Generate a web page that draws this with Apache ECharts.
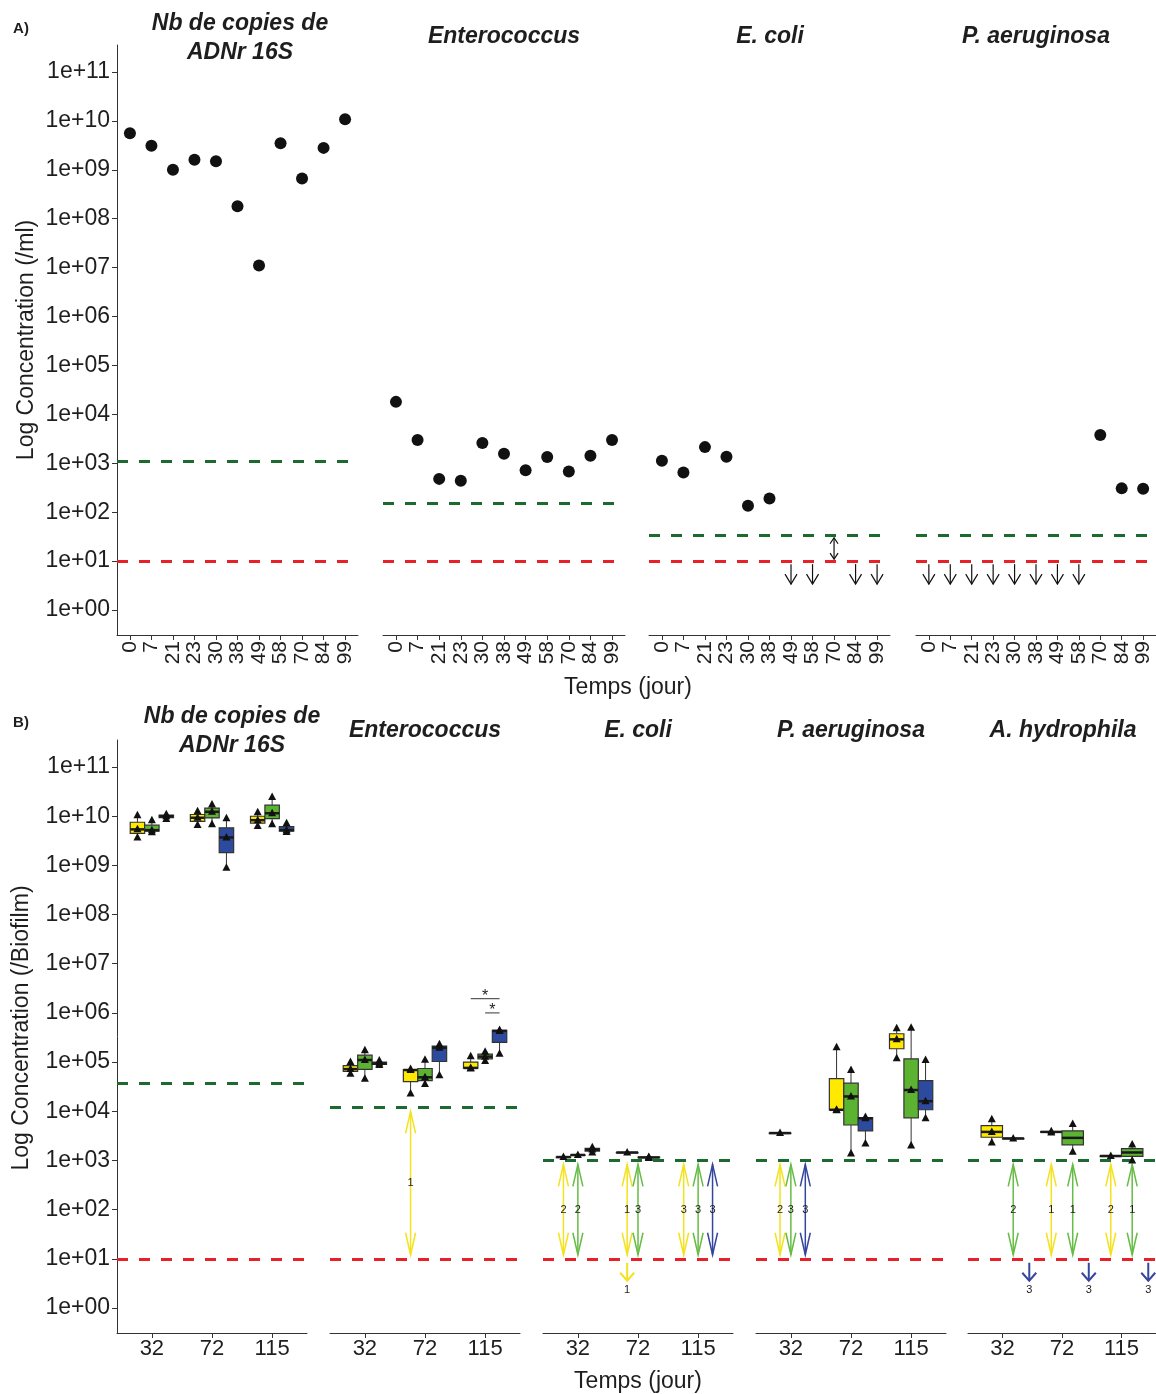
<!DOCTYPE html>
<html><head><meta charset="utf-8">
<script src="https://cdn.jsdelivr.net/npm/echarts@6/dist/echarts.min.js"></script>
<style>html,body{margin:0;padding:0;background:#fff}#c{width:1156px;height:1394px}</style>
</head><body><div id="c"></div>
<script>
// ================= DATA =================
// Panel A
const daysA = ['0','7','21','23','30','38','49','58','70','84','99'];
const facetTitlesA = ['Nb de copies de\nADNr 16S','Enterococcus','E. coli','P. aeruginosa'];
const a16S   = [5.6e9,3.1e9,1.0e9,1.6e9,1.5e9,1.8e8,1.1e7,3.5e9,6.6e8,2.8e9,1.08e10];
const aEntero= [1.8e4,3.0e3,4.8e2,4.4e2,2.6e3,1.57e3,7.2e2,1.34e3,6.8e2,1.43e3,2.98e3];
const aEcoli = [1.13e3,6.5e2,2.14e3,1.36e3,1.35e2,1.9e2,null,null,null,null,null];
const aPaer  = [null,null,null,null,null,null,null,null,3.8e3,3.07e2,3.0e2];
const loqA = [1.1e3,1.56e2,3.3e1,3.3e1];
const lodA = [10,10,10,10];
const aEcoliBelow = ['49','58','84','99'];
const aEcoliBetween = ['70'];
const aPaerBelow = ['0','7','21','23','30','38','49','58'];

// Panel B
const timesB = ['32','72','115'];
const groupsB = ['Groupe 1','Groupe 2','Groupe 3'];
const facetTitlesB = ['Nb de copies de\nADNr 16S','Enterococcus','E. coli','P. aeruginosa','A. hydrophila'];
// replicates [time][group]; null = group absent
const b16S = [
  [[3.7e9,5.4e9,1.05e10],[4.7e9,5.2e9,8.3e9],[8.8e9,1.0e10,1.1e10]],
  [[6.6e9,9.3e9,1.26e10],[6.9e9,1.23e10,1.74e10],[8.9e8,3.7e9,9.1e9]],
  [[6.3e9,8.3e9,1.2e10],[6.9e9,1.15e10,2.45e10],[4.8e9,5.2e9,7.2e9]]
];
const bEntero = [
  [[5.8e4,7.2e4,1.0e5],[4.6e4,1.1e5,1.74e5],[8.7e4,9.3e4,1.07e5]],
  [[2.3e4,6.9e4,7.2e4],[3.6e4,4.9e4,1.12e5],[5.4e4,1.95e5,2.3e5]],
  [[7.4e4,7.6e4,1.32e5],[1.05e5,1.29e5,1.62e5],[1.48e5,4.3e5,4.5e5]]
];
const bEcoli = [
  [[1.17e3],[1.29e3],[1.45e3,1.66e3,1.86e3]],
  [[1.45e3],null,[1.12e3,1.15e3,1.18e3]],
  [null,null,null]
];
const bPaer = [
  [[3.6e3],[],null],
  [[1.05e4,1.07e4,2.0e5],[1.38e3,2.0e4,6.9e4],[2.2e3,7.2e3,7.6e3]],
  [[1.2e5,2.9e5,4.9e5],[2.0e3,2.7e4,5.0e5],[7.2e3,1.6e4,1.1e5]]
];
const bAhyd = [
  [[2.3e3,3.8e3,6.9e3],[2.8e3],null],
  [[3.7e3,3.9e3],[1.5e3,5.5e3],null],
  [[1.23e3],[1.0e3,2.1e3],null]
];
const loqB = [3.7e4,1.2e4,1e3,1e3,1e3];
const lodB = [10,10,10,10,10];
// arrows [time, group, count]
const bEnteroBetween = [['72',0,1]];
const bEcoliBetween = [['32',0,2],['32',1,2],['72',0,1],['72',1,3],['115',0,3],['115',1,3],['115',2,3]];
const bEcoliBelow = [['72',0,1]];
const bPaerBetween = [['32',0,2],['32',1,3],['32',2,3]];
const bAhydBetween = [['32',1,2],['72',0,1],['72',1,1],['115',0,2],['115',1,1]];
const bAhydBelow = [['32',2,3],['72',2,3],['115',2,3]];
// significance [time, groupFrom, groupTo, level, label]
const bEnteroSig = [['115',0,2,1.95e6,'*'],['115',1,2,1.0e6,'*']];

const yTickExps = [0,1,2,3,4,5,6,7,8,9,10,11];
const yTickLabels = ['1e+00','1e+01','1e+02','1e+03','1e+04','1e+05','1e+06','1e+07','1e+08','1e+09','1e+10','1e+11'];

// ================= LAYOUT / STYLE =================
const FONT = '"Liberation Sans", Arial, Helvetica, sans-serif';
const TXT = '#1e1e1e', AX = '#333';
const LOQ_COLOR = '#1c6a30', LOD_COLOR = '#e8202a';
const boxColors = ['#FFE900','#5CB332','#2C4B9F'];
const arrowColors = ['#F3E21C','#66BC44','#34469E'];
const Y_MIN = -0.51, Y_MAX = 11.55;
const DODGE = 0.72;
const gridA = [{left:117,width:241},{left:383,width:242},{left:649,width:241},{left:916,width:240}];
const TOP_A = 45, H_A = 590;
const gridB = [{left:117,width:190},{left:330,width:190},{left:543,width:190},{left:756,width:190},{left:968,width:188}];
const TOP_B = 740, H_B = 593;
const titleXA = [240,504,770,1036];
const titleXB = [232,425,638,851,1063];

const L = v => Math.log10(v);
function q7(s,p){const h=(s.length-1)*p,lo=Math.floor(h),hi=Math.ceil(h);return s[lo]+(h-lo)*(s[hi]-s[lo]);}

function yAxisDef(gi, show){
  return {type:'value', gridIndex:gi, min:Y_MIN, max:Y_MAX, show:show,
    axisLine:{show:true,onZero:false,lineStyle:{color:AX,width:1}},
    axisTick:{show:true,length:5,customValues:yTickExps,lineStyle:{color:AX}},
    axisLabel:{customValues:yTickExps, formatter:v=>yTickLabels[yTickExps.indexOf(Math.round(v))],
      fontSize:23,color:TXT,fontFamily:FONT,margin:7},
    splitLine:{show:false}};
}
function refLines(loq, lod){
  return {silent:true, symbol:['none','none'], label:{show:false}, emphasis:{disabled:true}, animation:false,
    data:[
      {yAxis:L(loq), lineStyle:{color:LOQ_COLOR,type:[11,11],width:3}},
      {yAxis:L(lod), lineStyle:{color:LOD_COLOR,type:[11,11],width:3}}
    ]};
}

const option = {animation:false, backgroundColor:'#fff', grid:[], xAxis:[], yAxis:[], series:[], graphic:{elements:[]}};

// ---------- Panel A ----------
const seriesA = [a16S,aEntero,aEcoli,aPaer];
const idxA = daysA.map((d,i)=>i);
gridA.forEach((g,i)=>{
  option.grid.push({left:g.left, top:TOP_A, width:g.width, height:H_A});
  option.xAxis.push({type:'value', gridIndex:i, min:-0.6, max:10.6,
    axisLine:{onZero:false,lineStyle:{color:AX,width:1}},
    axisTick:{customValues:idxA,length:5,lineStyle:{color:AX}},
    axisLabel:{customValues:idxA, formatter:v=>daysA[Math.round(v)], rotate:90, fontSize:21, color:TXT, fontFamily:FONT, margin:6},
    splitLine:{show:false}});
  option.yAxis.push(yAxisDef(i, i===0));
  option.series.push({type:'scatter', xAxisIndex:i, yAxisIndex:i, z:3,
    data: seriesA[i].map((v,k)=> v==null?null:[k, L(v)]).filter(Boolean),
    symbol:'circle', symbolSize:12, itemStyle:{color:'#111',opacity:1},
    markLine: refLines(loqA[i], lodA[i])});
});

function arrowARender(kind){
  return (params, api)=>{
    const p = api.coord([api.value(0), api.value(1)]);
    const x = p[0], yl = p[1];
    const st = {stroke:'#111', lineWidth:1.2, fill:null};
    if(kind==='below'){
      const y0 = yl+3, y1 = yl+23;
      return {type:'group', children:[
        {type:'line', shape:{x1:x,y1:y0,x2:x,y2:y1}, style:st},
        {type:'polyline', shape:{points:[[x-6,y1-10],[x,y1],[x+6,y1-10]]}, style:st}
      ]};
    }
    const yq = api.coord([api.value(0), api.value(2)])[1];
    const y0 = yq+2, y1 = yl-2;
    return {type:'group', children:[
      {type:'line', shape:{x1:x,y1:y0,x2:x,y2:y1}, style:st},
      {type:'polyline', shape:{points:[[x-4,y0+6],[x,y0],[x+4,y0+6]]}, style:st},
      {type:'polyline', shape:{points:[[x-4,y1-6],[x,y1],[x+4,y1-6]]}, style:st}
    ]};
  };
}
option.series.push({type:'custom', xAxisIndex:2, yAxisIndex:2, z:4, clip:false,
  data: aEcoliBelow.map(d=>[daysA.indexOf(d), L(lodA[2])]), renderItem: arrowARender('below')});
option.series.push({type:'custom', xAxisIndex:2, yAxisIndex:2, z:4, clip:false,
  data: aEcoliBetween.map(d=>[daysA.indexOf(d), L(lodA[2]), L(loqA[2])]), renderItem: arrowARender('between')});
option.series.push({type:'custom', xAxisIndex:3, yAxisIndex:3, z:4, clip:false,
  data: aPaerBelow.map(d=>[daysA.indexOf(d), L(lodA[3])]), renderItem: arrowARender('below')});

// ---------- Panel B ----------
const repsB = [b16S,bEntero,bEcoli,bPaer,bAhyd];
const betweenB = [[],bEnteroBetween,bEcoliBetween,bPaerBetween,bAhydBetween];
const belowB = [[],[],bEcoliBelow,[],bAhydBelow];
const sigB = [[],bEnteroSig,[],[],[]];
const idxB = timesB.map((t,i)=>i);

function buildBoxItems(reps){
  const items=[];
  reps.forEach((row,t)=>{
    const present = row.map((r,g)=> r!=null ? g : -1).filter(g=>g>=0);
    row.forEach((r,g)=>{
      if(!r || !r.length) return;
      const lv = r.map(L).sort((a,b)=>a-b);
      items.push({t,g,n:present.length,slot:present.indexOf(g),lv,q1:q7(lv,.25),med:q7(lv,.5),q3:q7(lv,.75)});
    });
  });
  return items;
}
function boxX(api, it){
  const unit = api.size([1,0])[0];
  const total = DODGE*unit, w = total/it.n;
  return {cx: api.coord([it.t,0])[0] - total/2 + w*(it.slot+0.5), w};
}
function groupX(api, items, t, g, belowNoBox){
  const it = items.find(o=>o.t===t && o.g===g);
  if(it) return boxX(api,it).cx;
  const unit = api.size([1,0])[0];
  const off = belowNoBox ? (g-1)*0.45 : (g-1)*DODGE/3;
  return api.coord([t,0])[0] + off*unit;
}

gridB.forEach((g,k)=>{
  const gi = k+4;
  option.grid.push({left:g.left, top:TOP_B, width:g.width, height:H_B});
  option.xAxis.push({type:'value', gridIndex:gi, min:-0.58, max:2.58,
    axisLine:{onZero:false,lineStyle:{color:AX,width:1}},
    axisTick:{customValues:idxB,length:5,lineStyle:{color:AX}},
    axisLabel:{customValues:idxB, formatter:v=>timesB[Math.round(v)], fontSize:22, color:TXT, fontFamily:FONT, margin:5},
    splitLine:{show:false}});
  option.yAxis.push(yAxisDef(gi, k===0));
  option.series.push({type:'scatter', xAxisIndex:gi, yAxisIndex:gi, data:[], z:2, markLine: refLines(loqB[k], lodB[k])});
  const items = buildBoxItems(repsB[k]);
  option.series.push({type:'custom', xAxisIndex:gi, yAxisIndex:gi, z:5, clip:false,
    data: items.map(it=>[it.t, it.med]),
    renderItem:(params, api)=>{
      const it = items[params.dataIndex];
      const {cx,w} = boxX(api,it);
      const Y = v=>api.coord([it.t,v])[1];
      const yLo = Y(it.lv[0]), yHi = Y(it.lv[it.lv.length-1]);
      const y1 = Y(it.q1), y3 = Y(it.q3), ym = Y(it.med);
      const ch = [
        {type:'line', shape:{x1:cx,y1:yHi,x2:cx,y2:y3}, style:{stroke:AX,lineWidth:1}},
        {type:'line', shape:{x1:cx,y1:y1,x2:cx,y2:yLo}, style:{stroke:AX,lineWidth:1}},
        {type:'rect', shape:{x:cx-w/2,y:y3,width:w,height:Math.max(y1-y3,0.5)}, style:{fill:boxColors[it.g],stroke:AX,lineWidth:1.2}},
        {type:'line', shape:{x1:cx-w/2,y1:ym,x2:cx+w/2,y2:ym}, style:{stroke:'#1a1a1a',lineWidth:2.5}}
      ];
      it.lv.forEach(v=>{
        const y = Y(v);
        ch.push({type:'polygon', shape:{points:[[cx,y-4.5],[cx-4,y+3],[cx+4,y+3]]}, style:{fill:'#111'}});
      });
      return {type:'group', children:ch};
    }});
  if(betweenB[k].length){
    option.series.push({type:'custom', xAxisIndex:gi, yAxisIndex:gi, z:4, clip:false,
      data: betweenB[k].map(a=>[timesB.indexOf(a[0]), a[1], a[2]]),
      renderItem:(params, api)=>{
        const t = api.value(0), g = api.value(1), n = api.value(2);
        const x = groupX(api, items, t, g, false);
        const yq = api.coord([t, L(loqB[k])])[1] + 4;
        const yl = api.coord([t, L(lodB[k])])[1] - 4;
        const st = {stroke:arrowColors[g], lineWidth:1.5, fill:null};
        return {type:'group', children:[
          {type:'line', shape:{x1:x,y1:yq,x2:x,y2:yl}, style:st},
          {type:'polyline', shape:{points:[[x-5,yq+22],[x,yq],[x+5,yq+22]]}, style:st},
          {type:'polyline', shape:{points:[[x-5,yl-22],[x,yl],[x+5,yl-22]]}, style:st},
          {type:'text', x:x, y:(yq+yl)/2, style:{text:String(n), fontSize:11, fontFamily:FONT, fill:TXT,
            textAlign:'center', textVerticalAlign:'middle', align:'center', verticalAlign:'middle'}}
        ]};
      }});
  }
  if(belowB[k].length){
    option.series.push({type:'custom', xAxisIndex:gi, yAxisIndex:gi, z:4, clip:false,
      data: belowB[k].map(a=>[timesB.indexOf(a[0]), a[1], a[2]]),
      renderItem:(params, api)=>{
        const t = api.value(0), g = api.value(1), n = api.value(2);
        const x = groupX(api, items, t, g, true);
        const y0 = api.coord([t, L(lodB[k])])[1] + 4, y1 = y0 + 18;
        const st = {stroke:arrowColors[g], lineWidth:2, fill:null};
        return {type:'group', children:[
          {type:'line', shape:{x1:x,y1:y0,x2:x,y2:y1}, style:st},
          {type:'polyline', shape:{points:[[x-7,y1-8],[x,y1],[x+7,y1-8]]}, style:st},
          {type:'text', x:x, y:y1+9, style:{text:String(n), fontSize:11, fontFamily:FONT, fill:TXT,
            textAlign:'center', textVerticalAlign:'middle', align:'center', verticalAlign:'middle'}}
        ]};
      }});
  }
  if(sigB[k].length){
    option.series.push({type:'custom', xAxisIndex:gi, yAxisIndex:gi, z:4, clip:false,
      data: sigB[k].map(s=>[timesB.indexOf(s[0]), L(s[3]), s[1], s[2]]),
      renderItem:(params, api)=>{
        const s = sigB[k][params.dataIndex];
        const t = api.value(0);
        const x1 = groupX(api, items, t, s[1], false), x2 = groupX(api, items, t, s[2], false);
        const y = api.coord([t, api.value(1)])[1];
        return {type:'group', children:[
          {type:'line', shape:{x1:x1,y1:y,x2:x2,y2:y}, style:{stroke:'#555',lineWidth:1.2}},
          {type:'text', x:(x1+x2)/2, y:y-2, style:{text:s[4], fontSize:16, fontFamily:FONT, fill:TXT,
            textAlign:'center', textVerticalAlign:'middle', align:'center', verticalAlign:'middle'}}
        ]};
      }});
  }
});

// ---------- Texts ----------
function txt(text, x, y, opt){
  return {type:'text', x:x, y:y, silent:true, style:Object.assign({text:text, fontFamily:FONT, fill:TXT,
    textAlign:'center', textVerticalAlign:'middle', align:'center', verticalAlign:'middle'}, opt||{})};
}
const ttl = {fontSize:23, fontWeight:'bold', fontStyle:'italic', lineHeight:29};
const G = option.graphic.elements;
G.push(txt('A)', 21, 29, {fontSize:15, fontWeight:'bold'}));
G.push(txt('B)', 21, 723, {fontSize:15, fontWeight:'bold'}));
facetTitlesA.forEach((t,i)=>G.push(txt(t, titleXA[i], i===0?38:37, ttl)));
facetTitlesB.forEach((t,i)=>G.push(txt(t, titleXB[i], 731, ttl)));
G.push(txt('Temps (jour)', 628, 688, {fontSize:23}));
G.push(txt('Temps (jour)', 638, 1382, {fontSize:23}));
G.push(Object.assign(txt('Log Concentration (/ml)', 27, 340, {fontSize:23}), {rotation:Math.PI/2}));
G.push(Object.assign(txt('Log Concentration (/Biofilm)', 22, 1028, {fontSize:23}), {rotation:Math.PI/2}));

const chart = echarts.init(document.getElementById('c'));
chart.setOption(option);
</script></body></html>
